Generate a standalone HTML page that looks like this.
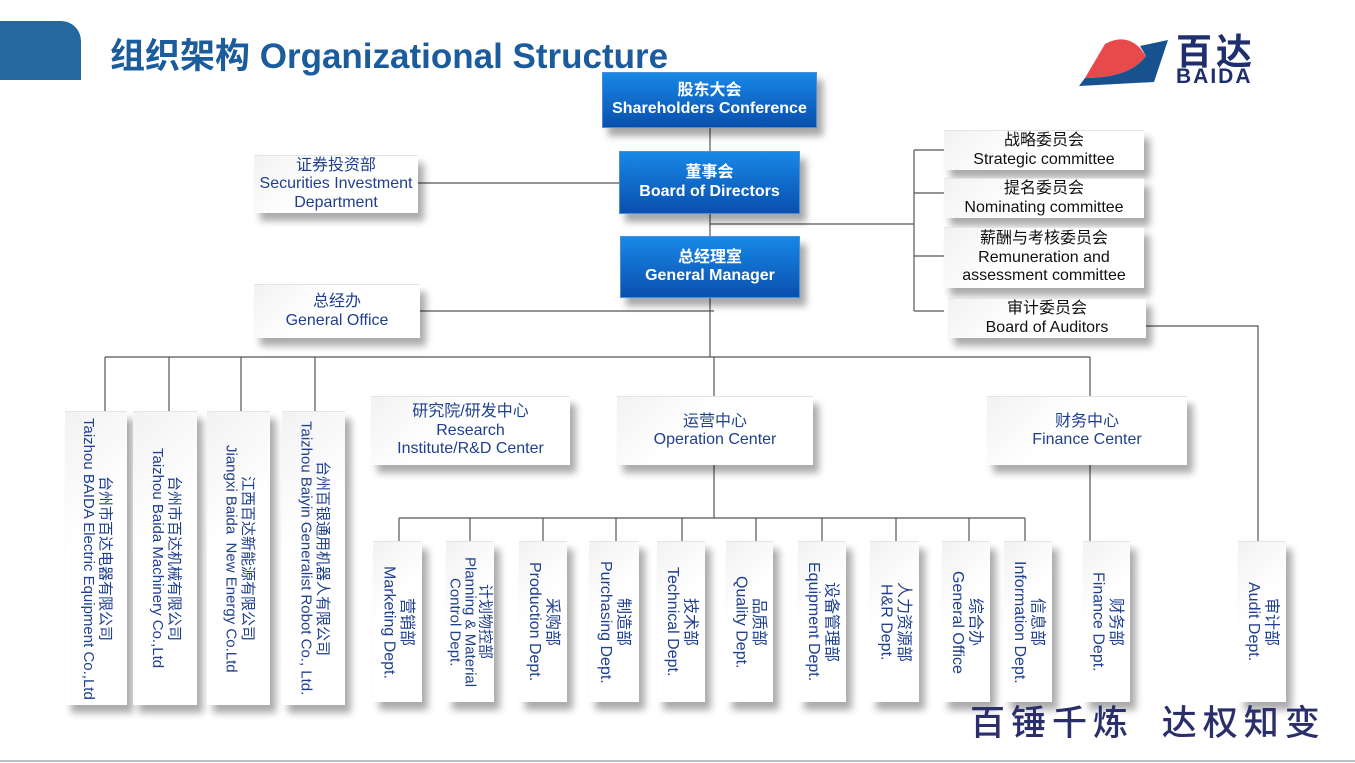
<!DOCTYPE html>
<html><head><meta charset="utf-8"><style>
*{margin:0;padding:0;box-sizing:border-box}
body{width:1355px;height:763px;position:relative;background:#fff;overflow:hidden;font-family:"Liberation Sans","Noto Sans CJK SC",sans-serif}
.b{position:absolute;display:flex;flex-direction:column;align-items:center;justify-content:center;text-align:center;line-height:1.15}
.blue{background:linear-gradient(180deg,#1888e6,#0a4fae);color:#fff;font-weight:bold;font-size:16px;box-shadow:6px 8px 7px rgba(0,0,0,.35);border:1px solid #4a8fd8}
.w{background:linear-gradient(135deg,#f2f2f2,#fff 40%);color:#1f3f8f;font-size:16px;box-shadow:6px 8px 7px rgba(0,0,0,.33);border-top:1px solid #e4e4e4}
.c{color:#111;font-size:16px}
.v{writing-mode:vertical-rl;text-orientation:sideways;font-size:16px;line-height:1.1;align-items:center;justify-content:center}
.v span{display:block;white-space:nowrap}
.co{font-size:15px}
svg{position:absolute;left:0;top:0}
</style></head><body>
<div style="position:absolute;left:0;top:21px;width:81px;height:59px;background:#23699f;border-top-right-radius:20px"></div>
<div style="position:absolute;left:110px;top:28px;font-size:35px;font-weight:bold;color:#1b5c9c;white-space:nowrap">组织架构 Organizational Structure</div>
<svg width="1355" height="763">
<path d="M1105 44 Q1125 33 1140 48 L1146 56 Q1130 78 1085 78 Z" fill="#e84a4c"/>
<path d="M1140 46 L1168 40 L1154 82 L1079 86 L1085 78 Q1130 78 1146 56 Z" fill="#17528f"/>
<g stroke="#555" stroke-width="1.2" fill="none">
<path d="M710 128V151M710 214V236M710 298V357M418 183H619M710 224H914M914 150V311M914 150H944M914 193H944M914 256H944M914 311H944M420 311H714M1146 326H1258V541"/>
<path d="M105 357H1090M105 357V411M169 357V411M241 357V411M315 357V411M714 357V396M1090 357V396"/>
<path d="M714 465V518M399 518H1025M399 518V541M470 518V541M543 518V541M616 518V541M682 518V541M756 518V541M822 518V541M896 518V541M969 518V541M1025 518V541M1090 465V541"/>
</g>
<line x1="0" y1="761" x2="1355" y2="761" stroke="#b8c0c8" stroke-width="2"/>
</svg>
<div style="position:absolute;left:1176px;top:34px;font-size:36px;font-weight:bold;color:#1e2e6e;letter-spacing:4px;line-height:1">百达</div>
<div style="position:absolute;left:1176px;top:66px;font-size:21px;font-weight:bold;color:#1e2e6e;letter-spacing:2px;line-height:1">BAIDA</div>

<div class="b blue" style="left:602px;top:72px;width:215px;height:56px">股东大会<br>Shareholders Conference</div>
<div class="b blue" style="left:619px;top:151px;width:181px;height:63px">董事会<br>Board of Directors</div>
<div class="b blue" style="left:620px;top:236px;width:180px;height:62px">总经理室<br>General Manager</div>

<div class="b w" style="left:254px;top:155px;width:164px;height:58px">证券投资部<br>Securities Investment<br>Department</div>
<div class="b w" style="left:254px;top:284px;width:166px;height:54px">总经办<br>General Office</div>

<div class="b w c" style="left:944px;top:130px;width:200px;height:40px">战略委员会<br>Strategic committee</div>
<div class="b w c" style="left:944px;top:178px;width:200px;height:40px">提名委员会<br>Nominating committee</div>
<div class="b w c" style="left:944px;top:227px;width:200px;height:61px">薪酬与考核委员会<br>Remuneration and<br>assessment committee</div>
<div class="b w c" style="left:948px;top:298px;width:198px;height:40px">审计委员会<br>Board of Auditors</div>

<div class="b w" style="left:371px;top:396px;width:199px;height:69px">研究院/研发中心<br>Research<br>Institute/R&amp;D Center</div>
<div class="b w" style="left:617px;top:396px;width:196px;height:69px">运营中心<br>Operation Center</div>
<div class="b w" style="left:987px;top:396px;width:200px;height:69px">财务中心<br>Finance Center</div>

<div class="b w v co" style="left:65px;top:411px;width:62px;height:294px"><span>台州市百达电器有限公司</span><span>Taizhou BAIDA Electric Equipment Co.,Ltd</span></div>
<div class="b w v co" style="left:133px;top:411px;width:64px;height:294px"><span>台州市百达机械有限公司</span><span>Taizhou Baida Machinery Co.,Ltd</span></div>
<div class="b w v co" style="left:207px;top:411px;width:63px;height:294px"><span>江西百达新能源有限公司</span><span>Jiangxi Baida&nbsp; New Energy Co.Ltd</span></div>
<div class="b w v co" style="left:282px;top:411px;width:63px;height:294px"><span>台州百银通用机器人有限公司</span><span>Taizhou Baiyin Generalist Robot Co., Ltd.</span></div>

<div class="b w v" style="left:373px;top:541px;width:49px;height:161px"><span>营销部</span><span>Marketing Dept.</span></div>
<div class="b w v" style="left:446px;top:541px;width:48px;height:161px;font-size:15px;line-height:1"><span>计划物控部</span><span>Planning &amp; Material</span><span>Control Dept.</span></div>
<div class="b w v" style="left:519px;top:541px;width:48px;height:161px"><span>采购部</span><span>Production Dept.</span></div>
<div class="b w v" style="left:589px;top:541px;width:50px;height:161px"><span>制造部</span><span>Purchasing Dept.</span></div>
<div class="b w v" style="left:657px;top:541px;width:48px;height:161px"><span>技术部</span><span>Technical Dept.</span></div>
<div class="b w v" style="left:726px;top:541px;width:47px;height:161px"><span>品质部</span><span>Quality Dept.</span></div>
<div class="b w v" style="left:798px;top:541px;width:48px;height:161px"><span>设备管理部</span><span>Equipment Dept.</span></div>
<div class="b w v" style="left:870px;top:541px;width:49px;height:161px"><span>人力资源部</span><span>H&amp;R Dept.</span></div>
<div class="b w v" style="left:942px;top:541px;width:48px;height:161px"><span>综合办</span><span>General Office</span></div>
<div class="b w v" style="left:1004px;top:541px;width:48px;height:161px"><span>信息部</span><span>Information Dept.</span></div>
<div class="b w v" style="left:1083px;top:541px;width:47px;height:161px"><span>财务部</span><span>Finance Dept.</span></div>
<div class="b w v" style="left:1238px;top:541px;width:48px;height:161px"><span>审计部</span><span>Audit Dept.</span></div>

<div style="position:absolute;left:970px;top:700px;font-size:35px;font-weight:500;color:#2a2f6b;letter-spacing:6px;white-space:nowrap;line-height:1.2;font-family:'Noto Sans CJK SC',sans-serif">百锤千炼&nbsp;&nbsp;达权知变</div>
</body></html>
